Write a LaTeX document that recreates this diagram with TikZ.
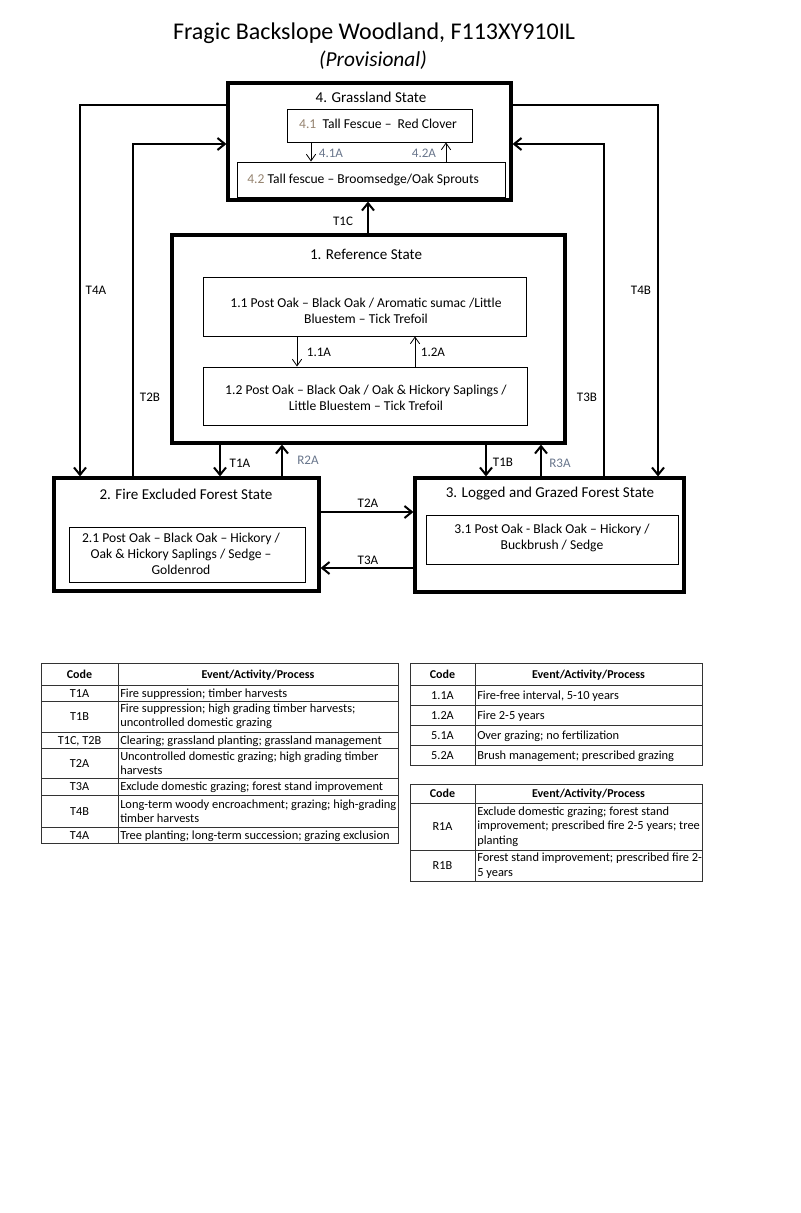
\documentclass[tikz,border=0pt]{standalone}
\usepackage{fontspec}
\setmainfont{Carlito}
\usetikzlibrary{arrows.meta,fit}
\definecolor{numgray}{RGB}{150,132,112}
\definecolor{lblgray}{RGB}{105,118,140}
\begin{document}
\begin{tikzpicture}[x=0.75pt,y=-0.75pt,
 statebox/.style={draw, line width=2.4pt, inner sep=0pt},
 phasebox/.style={draw, line width=0.7pt, inner sep=0pt},
 conn/.style={line width=1.5pt, -{Straight Barb[length=5.5pt,width=9pt]}},
 thinconn/.style={line width=0.6pt, -{Straight Barb[length=5pt,width=7pt]}},
 stitle/.style={font=\fontsize{11.3}{13}\selectfont, inner sep=0pt},
 ptext/.style={font=\fontsize{10.2}{12}\selectfont, align=center, inner sep=0pt},
 lbl/.style={font=\fontsize{9.8}{11}\selectfont, inner sep=1pt},
 glbl/.style={lbl, text=lblgray},
 tline/.style={line width=0.6pt, draw=black!80},
 thead/.style={font=\bfseries\fontsize{9}{10}\selectfont, inner sep=0pt, anchor=base},
 tcode/.style={font=\fontsize{9.2}{10.5}\selectfont, inner sep=0pt, anchor=base},
 tdesc/.style={font=\fontsize{9.3}{10.8}\selectfont, anchor=base west, inner sep=0pt},
 tdescm/.style={font=\fontsize{9.3}{10.8}\selectfont, anchor=west, align=left, inner sep=0pt},
]
\useasboundingbox[fill=white] (0,0) rectangle (800,1213);

% ---- titles
\node[font=\fontsize{18}{20}\selectfont, inner sep=0pt] (title) at (374,33) {Fragic Backslope Woodland, F113XY910IL};
\node[font=\itshape\fontsize{16}{18}\selectfont, inner sep=0pt] (subtitle) at (373,60) {(Provisional)};

% ---- reference coordinates
\coordinate (y105) at (0,105);
\coordinate (y144) at (0,144);
\coordinate (y512) at (0,512);
\coordinate (y568) at (0,568);

% ---- state 4
\node[statebox, fit={(228,83) (511,200)}] (s4) {};
\node[stitle] (s4t) at (371,97) {4. Grassland State};
\node[phasebox, fit={(287,109) (472,142)}] (s41) {};
\node[ptext] (s41t) at (378,124) {\textcolor{numgray}{4.1}\ \ Tall Fescue –\ \ Red Clover};
\node[phasebox, fit={(237,162) (505,197)}] (s42) {};
\node[ptext, anchor=west] (s42t) at (247,180) {\textcolor{numgray}{4.2} Tall fescue – Broomsedge/Oak Sprouts};

% ---- state 1
\node[statebox, fit={(172,235) (565,443)}] (s1) {};
\node[stitle] (s1t) at (366,254) {1. Reference State};
\node[phasebox, fit={(203,277) (526,336)}] (s11) {};
\node[ptext] (s11t) at (366,311) {1.1 Post Oak – Black Oak / Aromatic sumac /Little\\Bluestem – Tick Trefoil};
\node[phasebox, fit={(203,367) (527,425)}] (s12) {};
\node[ptext] (s12t) at (366,398) {1.2 Post Oak – Black Oak / Oak \& Hickory Saplings /\\Little Bluestem – Tick Trefoil};

% ---- state 2
\node[statebox, fit={(54,478) (319,591)}] (s2) {};
\node[stitle] (s2t) at (186,494) {2. Fire Excluded Forest State};
\node[phasebox, fit={(69,527) (305,582)}] (s21) {};
\node[ptext] (s21t) at (181,554) {2.1 Post Oak – Black Oak – Hickory /\\Oak \& Hickory Saplings / Sedge –\\Goldenrod};

% ---- state 3
\node[statebox, fit={(415,478) (684,592)}] (s3) {};
\node[stitle] (s3t) at (550,494) {3. Logged and Grazed Forest State};
\node[phasebox, fit={(426,515) (678,564)}] (s31) {};
\node[ptext] (s31t) at (552,538) {3.1 Post Oak - Black Oak – Hickory /\\Buckbrush / Sedge};

% ---- x coordinates for connectors
\coordinate (x80) at (80,0);
\coordinate (x133) at (133,0);
\coordinate (x658) at (658,0);
\coordinate (x604) at (604,0);
\coordinate (x368) at (368,0);
\coordinate (x220) at (220,0);
\coordinate (x282) at (282,0);
\coordinate (x486) at (486,0);
\coordinate (x541) at (541,0);
\coordinate (x311) at (311,0);
\coordinate (x446) at (446,0);
\coordinate (x297) at (297,0);
\coordinate (x415) at (415,0);

% ---- connectors between states
\draw[conn] (s1.north -| x368) -- (s4.south -| x368);
\node[lbl] (lT1C) at (343,221) {T1C};

\draw[conn] (s4.west |- y105) -| (s2.north -| x80);
\node[lbl] (lT4A) at (96,290) {T4A};
\draw[conn] (s2.north -| x133) |- (s4.west |- y144);
\node[lbl] (lT2B) at (150,397) {T2B};

\draw[conn] (s4.east |- y105) -| (s3.north -| x658);
\node[lbl] (lT4B) at (641,290) {T4B};
\draw[conn] (s3.north -| x604) |- (s4.east |- y144);
\node[lbl] (lT3B) at (587,397) {T3B};

\draw[conn] (s1.south -| x220) -- (s2.north -| x220);
\node[lbl] (lT1A) at (240,463) {T1A};
\draw[conn] (s2.north -| x282) -- (s1.south -| x282);
\node[glbl] (lR2A) at (308,460) {R2A};

\draw[conn] (s1.south -| x486) -- (s3.north -| x486);
\node[lbl] (lT1B) at (503,462) {T1B};
\draw[conn] (s3.north -| x541) -- (s1.south -| x541);
\node[glbl] (lR3A) at (560,463) {R3A};

\draw[conn] (s2.east |- y512) -- (s3.west |- y512);
\node[lbl] (lT2A) at (368,503) {T2A};
\draw[conn] (s3.west |- y568) -- (s2.east |- y568);
\node[lbl] (lT3A) at (368,560) {T3A};

% ---- connectors between phases
\draw[thinconn] (s41.south -| x311) -- (s42.north -| x311);
\node[glbl] (l41A) at (331,153) {4.1A};
\draw[thinconn] (s42.north -| x446) -- (s41.south -| x446);
\node[glbl] (l42A) at (424,153) {4.2A};

\draw[thinconn] (s11.south -| x297) -- (s12.north -| x297);
\node[lbl] (l11A) at (319,352) {1.1A};
\draw[thinconn] (s12.north -| x415) -- (s11.south -| x415);
\node[lbl] (l12A) at (433,352) {1.2A};

% ---- table 1
\draw[tline] (41,663) rectangle (398,843);
\draw[tline] (118,663) -- (118,843);
\foreach \yy in {685,701,732,748,778,795,827} \draw[tline] (41,\yy) -- (398,\yy);
\node[thead] (t1h1) at (79.5,678) {Code};
\node[thead] (t1h2) at (258,678) {Event/Activity/Process};
\node[tcode] (t1c1) at (79.5,697) {T1A};
\node[tdesc] (t1d1) at (120,697) {Fire suppression; timber harvests};
\node[tcode] (t1c2) at (79.5,720) {T1B};
\node[tdescm] (t1d2) at (120,716.5) {Fire suppression; high grading timber harvests;\\uncontrolled domestic grazing};
\node[tcode] (t1c3) at (79.5,744) {T1C, T2B};
\node[tdesc] (t1d3) at (120,744) {Clearing; grassland planting; grassland management};
\node[tcode] (t1c4) at (79.5,767) {T2A};
\node[tdescm] (t1d4) at (120,763) {Uncontrolled domestic grazing; high grading timber\\harvests};
\node[tcode] (t1c5) at (79.5,790) {T3A};
\node[tdesc] (t1d5) at (120,790) {Exclude domestic grazing; forest stand improvement};
\node[tcode] (t1c6) at (79.5,815) {T4B};
\node[tdescm] (t1d6) at (120,811) {Long-term woody encroachment; grazing; high-grading\\timber harvests};
\node[tcode] (t1c7) at (79.5,839) {T4A};
\node[tdesc] (t1d7) at (120,839) {Tree planting; long-term succession; grazing exclusion};

% ---- table 2
\draw[tline] (410,663) rectangle (702,765);
\draw[tline] (475,663) -- (475,765);
\foreach \yy in {685,705,725,745} \draw[tline] (410,\yy) -- (702,\yy);
\node[thead] (t2h1) at (442.5,678) {Code};
\node[thead] (t2h2) at (588.5,678) {Event/Activity/Process};
\node[tcode] (t2c1) at (442.5,699) {1.1A};
\node[tdesc] (t2d1) at (477,699) {Fire-free interval, 5-10 years};
\node[tcode] (t2c2) at (442.5,719) {1.2A};
\node[tdesc] (t2d2) at (477,719) {Fire 2-5 years};
\node[tcode] (t2c3) at (442.5,739) {5.1A};
\node[tdesc] (t2d3) at (477,739) {Over grazing; no fertilization};
\node[tcode] (t2c4) at (442.5,759) {5.2A};
\node[tdesc] (t2d4) at (477,759) {Brush management; prescribed grazing};

% ---- table 3
\draw[tline] (410,784) rectangle (702,881);
\draw[tline] (475,784) -- (475,881);
\foreach \yy in {803,850} \draw[tline] (410,\yy) -- (702,\yy);
\node[thead] (t3h1) at (442.5,797.5) {Code};
\node[thead] (t3h2) at (588.5,797.5) {Event/Activity/Process};
\node[tcode] (t3c1) at (442.5,830) {R1A};
\node[tdescm] (t3d1) at (477,826.5) {Exclude domestic grazing; forest stand\\improvement; prescribed fire 2-5 years; tree\\planting};
\node[tcode] (t3c2) at (442.5,869) {R1B};
\node[tdescm] (t3d2) at (477,865.5) {Forest stand improvement; prescribed fire 2-\\5 years};
\end{tikzpicture}
\end{document}
